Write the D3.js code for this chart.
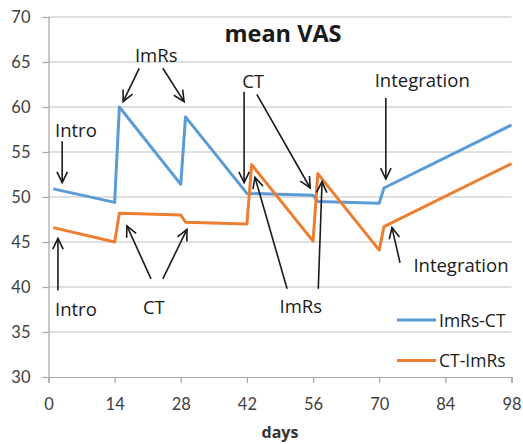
<!DOCTYPE html>
<html>
<head>
<meta charset="utf-8">
<script src="https://cdn.jsdelivr.net/npm/d3@7"></script>
<style>
  html, body { margin: 0; padding: 0; background: #fff; }
  svg { display: block; font-family: "Open Sans", sans-serif; }
</style>
</head>
<body>
<div id="chart"></div>
<script>
// series values
const imrsCtDays = [1, 14, 15, 28, 29, 42, 56, 57, 70, 71, 98];
const imrsCtVas = [50.9, 49.4, 60.0, 51.4, 58.9, 50.4, 50.2, 49.5, 49.3, 51.0, 58.0];
const ctImrsDays = [1, 14, 15, 28, 29, 42, 43, 56, 57, 70, 71, 98];
const ctImrsVas = [46.6, 45.0, 48.2, 48.0, 47.2, 47.0, 53.6, 45.1, 52.6, 44.1, 46.7, 53.7];

const xTicks = [0, 14, 28, 42, 56, 70, 84, 98];
const yTicks = [30, 35, 40, 45, 50, 55, 60, 65, 70];
const seriesNames = ['ImRs-CT', 'CT-ImRs'];

// annotation labels (text, day, vas) and arrows (from day/vas -> to day/vas)
const noteLabels = [
  ['Intro', 5.8, 56.7], ['ImRs', 22.8, 65.0], ['CT', 43.3, 62.1], ['Integration', 79.1, 62.2],
  ['Intro', 5.8, 36.8], ['CT', 22.3, 37.0], ['ImRs', 53.4, 37.1], ['Integration', 87.3, 41.7]
];
const noteArrows = [
  [2.9, 56.2, 2.9, 51.6], [19.2, 64.3, 15.8, 60.6], [24.2, 64.3, 28.7, 60.6],
  [41.4, 61.7, 41.4, 51.6], [44.1, 61.4, 55.4, 51.0], [71.4, 61.0, 71.4, 52.0],
  [2.0, 39.6, 2.0, 45.4], [21.7, 40.9, 16.6, 46.8], [24.2, 40.9, 29.3, 46.4],
  [50.5, 39.8, 43.7, 52.2], [57.1, 39.8, 57.9, 51.7], [74.4, 42.7, 72.7, 46.6]
];

const width = 523, height = 444;
const margin = { top: 17, right: 11.5, bottom: 67, left: 48.5 };
const colors = ['#5B9BD5', '#ED7D31'];

const svg = d3.select('#chart').append('svg')
  .attr('width', width)
  .attr('height', height);

const x = d3.scaleLinear().domain([0, 98]).range([margin.left, width - margin.right]);
const y = d3.scaleLinear().domain([30, 70]).range([height - margin.bottom, margin.top]);

// gridlines
svg.append('g')
  .selectAll('line')
  .data(yTicks.slice(1))
  .enter().append('line')
  .attr('x1', x(0)).attr('x2', x(98))
  .attr('y1', d => y(d)).attr('y2', d => y(d))
  .attr('stroke', '#bfbfbf').attr('stroke-width', 1.2);

// y axis
const yAxis = svg.append('g')
  .attr('transform', `translate(${x(0)},0)`)
  .call(d3.axisLeft(y).tickValues(yTicks).tickSize(6).tickPadding(12));
yAxis.select('.domain').attr('stroke', '#a6a6a6').attr('stroke-width', 1.2);
yAxis.selectAll('.tick line').attr('stroke', '#a6a6a6').attr('stroke-width', 1.2);
yAxis.selectAll('text').attr('font-size', 16.5).attr('fill', '#404040').attr('font-family', 'Lato, sans-serif');

// x axis
const xAxis = svg.append('g')
  .attr('transform', `translate(0,${y(30)})`)
  .call(d3.axisBottom(x).tickValues(xTicks).tickSize(6).tickPadding(15));
xAxis.select('.domain').attr('stroke', '#a6a6a6').attr('stroke-width', 1.2);
xAxis.selectAll('.tick line').attr('stroke', '#a6a6a6').attr('stroke-width', 1.2);
xAxis.selectAll('text').attr('font-size', 16.5).attr('fill', '#404040').attr('font-family', 'Lato, sans-serif');

// series lines
const line = d3.line().x(d => x(d[0])).y(d => y(d[1]));
const series = [
  d3.zip(imrsCtDays, imrsCtVas),
  d3.zip(ctImrsDays, ctImrsVas)
];
svg.append('g')
  .selectAll('path')
  .data(series)
  .enter().append('path')
  .attr('d', line)
  .attr('fill', 'none')
  .attr('stroke', (d, i) => colors[i])
  .attr('stroke-width', 3)
  .attr('stroke-linejoin', 'round');

// annotation arrows
const arrows = svg.append('g').attr('stroke', '#1a1a1a').attr('stroke-width', 1.6).attr('fill', 'none');
noteArrows.forEach(a => {
  const x1 = x(a[0]), y1 = y(a[1]), x2 = x(a[2]), y2 = y(a[3]);
  const ang = Math.atan2(y2 - y1, x2 - x1);
  const len = 12, spread = 0.45;
  arrows.append('line').attr('x1', x1).attr('y1', y1).attr('x2', x2).attr('y2', y2);
  arrows.append('path').attr('d',
    `M${x2 - len * Math.cos(ang - spread)},${y2 - len * Math.sin(ang - spread)}` +
    `L${x2},${y2}` +
    `L${x2 - len * Math.cos(ang + spread)},${y2 - len * Math.sin(ang + spread)}`);
});

// annotation labels
svg.append('g')
  .selectAll('text')
  .data(noteLabels)
  .enter().append('text')
  .attr('x', d => x(d[1]))
  .attr('y', d => y(d[2]))
  .attr('text-anchor', 'middle')
  .attr('font-size', 18.5)
  .attr('fill', '#1a1a1a')
  .text(d => d[0]);

// title
svg.append('text')
  .attr('x', 283).attr('y', 42)
  .attr('text-anchor', 'middle')
  .attr('font-size', 23.5).attr('font-weight', 'bold')
  .attr('fill', '#1a1a1a')
  .text('mean VAS');

// x axis label
svg.append('text')
  .attr('x', 280).attr('y', 438)
  .attr('text-anchor', 'middle')
  .attr('font-size', 16).attr('font-weight', 'bold')
  .attr('fill', '#333')
  .text('days');

// legend
const legend = svg.append('g')
  .selectAll('g')
  .data(seriesNames)
  .enter().append('g')
  .attr('transform', (d, i) => `translate(397,${320 + i * 40.5})`);
legend.append('line')
  .attr('x1', 0).attr('x2', 39)
  .attr('stroke', (d, i) => colors[i]).attr('stroke-width', 3);
legend.append('text')
  .attr('x', 42).attr('y', 6.5)
  .attr('font-size', 17.5).attr('fill', '#1a1a1a')
  .text(d => d);
</script>
</body>
</html>
